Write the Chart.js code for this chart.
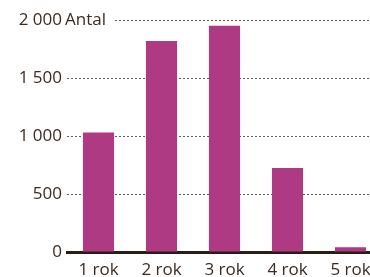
<!DOCTYPE html>
<html>
<head>
<meta charset="utf-8">
<script src="https://cdn.jsdelivr.net/npm/chart.js@4/dist/chart.umd.min.js"></script>
<style>
html,body{margin:0;padding:0;background:#fff;overflow:hidden;width:370px;height:277px;}
#wrap{position:relative;width:382px;height:277px;}
</style>
</head>
<body>
<div id="wrap"><canvas id="c"></canvas></div>
<script>
const categories = ["1 rok", "2 rok", "3 rok", "4 rok", "5 rok"];
const values = [1030, 1820, 1950, 725, 40];
const yTicks = [0, 500, 1000, 1500, 2000];
const unitLabel = "Antal";

const FONT = "'Open Sans', sans-serif";
const FS = 17;
const TEXT = "#3b2b20";

function fmt(v){ return String(v).replace(/\B(?=(\d{3})+(?!\d))/g, "\u00a0"); }

const antalPlugin = {
  id: "antal",
  afterDraw(chart){
    const ctx = chart.ctx, y = chart.scales.y;
    const py = y.getPixelForValue(yTicks[yTicks.length-1]);
    const left = chart.chartArea.left;
    ctx.save();
    ctx.font = FS + "px " + FONT;
    const x0 = left - 2;
    const w = ctx.measureText(unitLabel).width;
    ctx.fillStyle = "#fff";
    ctx.fillRect(left - 3, py - 3, (x0 + w + 7) - (left - 3), 6);
    ctx.fillStyle = TEXT;
    ctx.textBaseline = "middle";
    ctx.textAlign = "left";
    ctx.fillText(unitLabel, x0, py);
    ctx.restore();
  }
};

new Chart(document.getElementById("c"), {
  type: "bar",
  data: {
    labels: categories,
    datasets: [{ data: values, backgroundColor: "#ae3a84", borderWidth: 0,
      categoryPercentage: 1, barPercentage: 0.494 }]
  },
  options: {
    responsive: true, maintainAspectRatio: false, animation: false,
    devicePixelRatio: 1,
    layout: { padding: { top: 20, right: 0, left: 0, bottom: 0 } },
    plugins: { legend: { display: false }, tooltip: { enabled: false } },
    scales: {
      x: {
        z: 1,
        grid: { display: false },
        border: { display: true, color: "#2b1d12", width: 3 },
        ticks: { color: TEXT, font: { family: FONT, size: FS }, padding: 0, maxRotation: 0 },
        afterFit(s){ s.height = 25; }
      },
      y: {
        min: 0, max: 2000,
        grid: { color: "#6b5a4e", lineWidth: 1, drawTicks: false },
        border: { display: false, dash: [2, 2] },
        afterBuildTicks(s){ s.ticks = yTicks.map(v => ({ value: v })); },
        ticks: { color: TEXT, font: { family: FONT, size: FS }, padding: 5,
          callback: v => fmt(v) },
        afterFit(s){ s.width = 67; }
      }
    }
  },
  plugins: [antalPlugin]
});
</script>
</body>
</html>
